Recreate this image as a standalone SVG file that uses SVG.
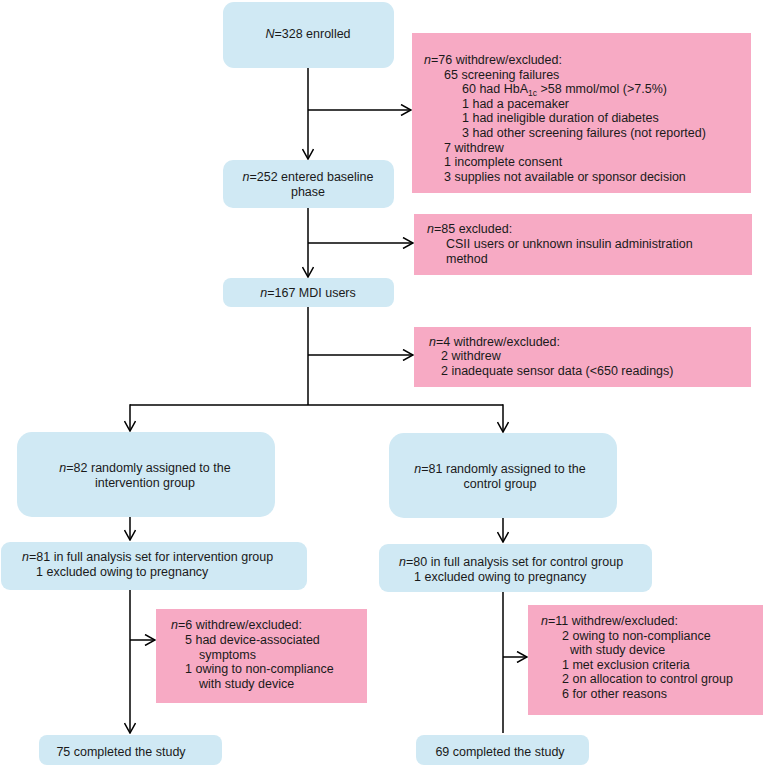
<svg xmlns="http://www.w3.org/2000/svg" width="766" height="766" viewBox="0 0 766 766">
<defs>
<marker id="ah" viewBox="0 0 12 12" refX="11" refY="6" markerWidth="12" markerHeight="12" markerUnits="userSpaceOnUse" orient="auto">
<path d="M1,0.5 L11,6 L1,11.5" fill="none" stroke="#000" stroke-width="1.5"/>
</marker>
</defs>
<style>
.b{fill:#d0e9f4}
.p{fill:#f7aac4}
text{font-family:"Liberation Sans",Arial,Helvetica,sans-serif;font-size:12.5px;fill:#1a1a1a}
.c{text-anchor:middle}
.i{font-style:italic}
.ln{fill:none;stroke:#000;stroke-width:1.5}
.ar{fill:none;stroke:#000;stroke-width:1.5;marker-end:url(#ah)}
</style>
<rect width="766" height="766" fill="#fff"/>
<g id="connectors">
<line class="ar" x1="308" y1="68" x2="308" y2="159"/>
<line class="ar" x1="308" y1="110" x2="411" y2="110"/>
<line class="ar" x1="308" y1="208" x2="308" y2="277"/>
<line class="ar" x1="308" y1="243" x2="413" y2="243"/>
<line class="ln" x1="308" y1="307" x2="308" y2="405"/>
<line class="ar" x1="308" y1="355" x2="413" y2="355"/>
<line class="ln" x1="130" y1="405" x2="503" y2="405"/>
<line class="ar" x1="130" y1="404.3" x2="130" y2="431"/>
<line class="ar" x1="503" y1="404.3" x2="503" y2="432"/>
<line class="ar" x1="130" y1="517" x2="130" y2="540"/>
<line class="ar" x1="503" y1="518" x2="503" y2="542"/>
<line class="ar" x1="130" y1="590" x2="130" y2="733"/>
<line class="ar" x1="130" y1="640" x2="155" y2="640"/>
<line class="ln" x1="503" y1="592" x2="503" y2="733"/>
<line class="ar" x1="503" y1="657" x2="527" y2="657"/>
</g>
<g id="enrolled">
<rect class="b" x="223" y="2" width="171" height="66" rx="11"/>
<text class="c" x="308" y="38"><tspan class="i">N</tspan>=328 enrolled</text>
</g>
<g id="excl1">
<rect class="p" x="412" y="33" width="339" height="160"/>
<text x="424" y="64"><tspan class="i">n</tspan>=76 withdrew/excluded:</text>
<text x="444" y="78.6">65 screening failures</text>
<text x="462" y="93.2">60 had HbA<tspan font-size="8.5" dy="3">1c</tspan><tspan dy="-3"> &gt;58 mmol/mol (&gt;7.5%)</tspan></text>
<text x="462" y="107.8">1 had a pacemaker</text>
<text x="462" y="122.4">1 had ineligible duration of diabetes</text>
<text x="462" y="137">3 had other screening failures (not reported)</text>
<text x="444" y="151.6">7 withdrew</text>
<text x="444" y="166.2">1 incomplete consent</text>
<text x="444" y="180.8">3 supplies not available or sponsor decision</text>
</g>
<g id="baseline">
<rect class="b" x="223" y="160" width="171" height="48" rx="10"/>
<text class="c" x="308" y="181"><tspan class="i">n</tspan>=252 entered baseline</text>
<text class="c" x="308" y="196">phase</text>
</g>
<g id="excl2">
<rect class="p" x="414" y="214" width="338" height="61"/>
<text x="427" y="233"><tspan class="i">n</tspan>=85 excluded:</text>
<text x="446" y="248">CSII users or unknown insulin administration</text>
<text x="446" y="262.5">method</text>
</g>
<g id="mdi">
<rect class="b" x="223" y="278" width="171" height="29" rx="8"/>
<text class="c" x="308" y="297"><tspan class="i">n</tspan>=167 MDI users</text>
</g>
<g id="excl3">
<rect class="p" x="414" y="327" width="337" height="60"/>
<text x="429" y="346"><tspan class="i">n</tspan>=4 withdrew/excluded:</text>
<text x="441" y="360">2 withdrew</text>
<text x="441" y="374.5">2 inadequate sensor data (&lt;650 readings)</text>
</g>
<g id="rand-int">
<rect class="b" x="17" y="432" width="258" height="85" rx="15"/>
<text class="c" x="145" y="472"><tspan class="i">n</tspan>=82 randomly assigned to the</text>
<text class="c" x="145" y="486.5">intervention group</text>
</g>
<g id="rand-ctl">
<rect class="b" x="389" y="433" width="228" height="85" rx="15"/>
<text class="c" x="500" y="473"><tspan class="i">n</tspan>=81 randomly assigned to the</text>
<text class="c" x="500" y="487.5">control group</text>
</g>
<g id="fas-int">
<rect class="b" x="1" y="542" width="306" height="48" rx="9"/>
<text x="22" y="561"><tspan class="i">n</tspan>=81 in full analysis set for intervention group</text>
<text x="36" y="576">1 excluded owing to pregnancy</text>
</g>
<g id="fas-ctl">
<rect class="b" x="379" y="544" width="273" height="48" rx="9"/>
<text x="399" y="566"><tspan class="i">n</tspan>=80 in full analysis set for control group</text>
<text x="414" y="581">1 excluded owing to pregnancy</text>
</g>
<g id="excl4">
<rect class="p" x="156" y="609" width="211" height="94"/>
<text x="171" y="629"><tspan class="i">n</tspan>=6 withdrew/excluded:</text>
<text x="185" y="644">5 had device-associated</text>
<text x="199" y="658.5">symptoms</text>
<text x="185" y="673">1 owing to non-compliance</text>
<text x="199" y="688">with study device</text>
</g>
<g id="excl5">
<rect class="p" x="528" y="605" width="235" height="110"/>
<text x="541" y="625"><tspan class="i">n</tspan>=11 withdrew/excluded:</text>
<text x="562" y="639.5">2 owing to non-compliance</text>
<text x="570" y="654">with study device</text>
<text x="562" y="668.5">1 met exclusion criteria</text>
<text x="562" y="683">2 on allocation to control group</text>
<text x="562" y="697.5">6 for other reasons</text>
</g>
<g id="done-int">
<rect class="b" x="39" y="735" width="183" height="30" rx="8"/>
<text class="c" x="121" y="755.5">75 completed the study</text>
</g>
<g id="done-ctl">
<rect class="b" x="416" y="735" width="173" height="30" rx="8"/>
<text class="c" x="500" y="755.5">69 completed the study</text>
</g>
</svg>
